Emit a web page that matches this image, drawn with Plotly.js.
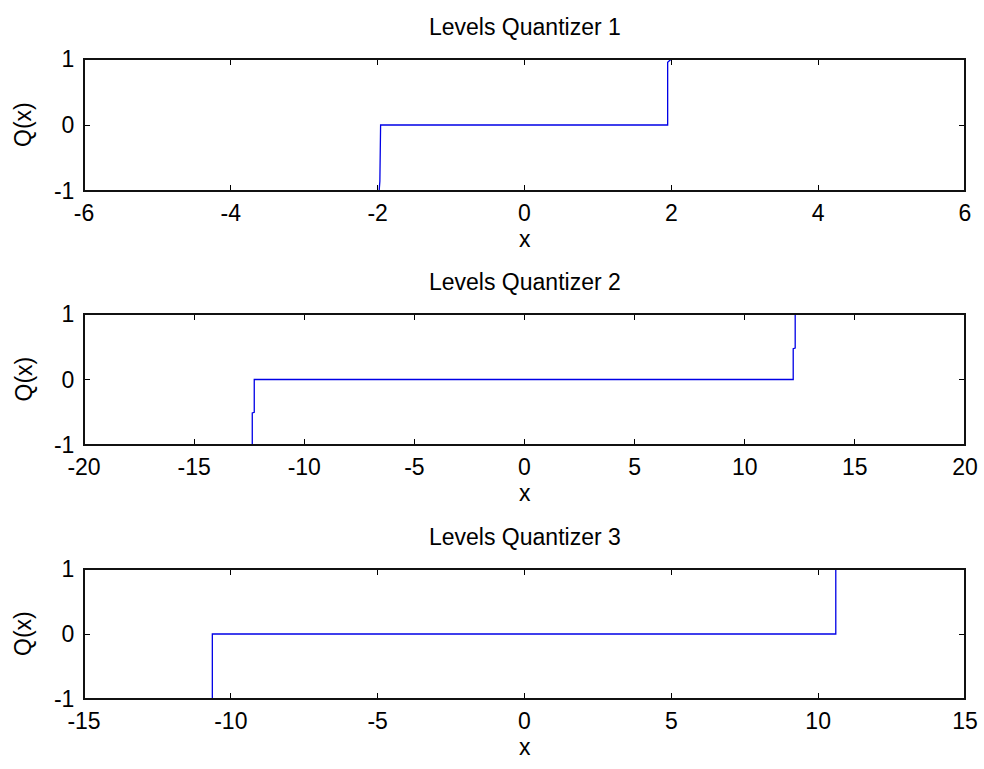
<!DOCTYPE html>
<html>
<head>
<meta charset="utf-8">
<script src="https://cdn.plot.ly/plotly-3.0.1.min.js"></script>
<style>html,body{margin:0;padding:0;background:#fff;}#chart{width:984px;height:769px;}</style>
</head>
<body>
<div id="chart"></div>
<script>
// Quantizer 1 step curve
const x1 = [-6, -1.98, -1.97, -1.96, 1.95, 1.95, 2.0, 6];
const y1 = [-1, -1, -0.85, 0, 0, 0.95, 1, 1];
// Quantizer 2 step curve
const x2 = [-20, -12.36, -12.36, -12.27, -12.27, 12.2, 12.2, 12.29, 12.29, 20];
const y2 = [-1, -1, -0.51, -0.5, 0, 0, 0.47, 0.48, 1, 1];
// Quantizer 3 step curve
const x3 = [-15, -10.63, -10.63, 10.6, 10.6, 15];
const y3 = [-1, -1, 0, 0, 1, 1];

const titles = ["Levels Quantizer 1", "Levels Quantizer 2", "Levels Quantizer 3"];
const xRanges = [[-6, 6], [-20, 20], [-15, 15]];
const xTicks = [[-6, -4, -2, 0, 2, 4, 6], [-20, -15, -10, -5, 0, 5, 10, 15, 20], [-15, -10, -5, 0, 5, 10, 15]];
const yTicks = [-1, 0, 1];
const xLabel = "x";
const yLabel = "Q(x)";

const W = 984, H = 769;
const xd = [84 / W, 965 / W];
const boxes = [[59, 191], [314, 445], [569, 699]];
const font = {family: "Liberation Sans, Arial, sans-serif", size: 23, color: "#000"};
const lineColor = "#0000e6";

const data = [[x1, y1], [x2, y2], [x3, y3]].map((d, i) => ({
  x: d[0], y: d[1], type: "scatter", mode: "lines",
  line: {color: lineColor, width: 1.3},
  xaxis: i === 0 ? "x" : "x" + (i + 1),
  yaxis: i === 0 ? "y" : "y" + (i + 1),
  hoverinfo: "skip", showlegend: false
}));

const layout = {
  width: W, height: H,
  margin: {l: 0, r: 0, t: 0, b: 0},
  paper_bgcolor: "#fff", plot_bgcolor: "#fff",
  font: font, showlegend: false,
  annotations: [], shapes: []
};

const txt = v => String(v).replace("\u2212", "-");

boxes.forEach((b, i) => {
  const s = i === 0 ? "" : String(i + 1);
  const yd = [1 - b[1] / H, 1 - b[0] / H];
  layout["xaxis" + s] = {
    domain: xd, range: xRanges[i], anchor: "y" + s,
    tickmode: "array", tickvals: xTicks[i], ticktext: xTicks[i].map(txt),
    ticks: "inside", ticklen: 6, tickwidth: 1, tickcolor: "#000",
    showline: true, linecolor: "#000", linewidth: 1, mirror: "ticks",
    showgrid: false, zeroline: false,
    tickfont: font, ticklabelstandoff: 1
  };
  layout["yaxis" + s] = {
    domain: yd, range: [-1, 1], anchor: "x" + s,
    tickmode: "array", tickvals: yTicks, ticktext: yTicks.map(txt),
    ticks: "inside", ticklen: 6, tickwidth: 1, tickcolor: "#000",
    showline: true, linecolor: "#000", linewidth: 1, mirror: "ticks",
    showgrid: false, zeroline: false,
    tickfont: font, ticklabelstandoff: 4
  };
  // frame drawn above the curve, like the reference box
  layout.shapes.push({
    type: "rect", xref: "x" + s + " domain", yref: "y" + s + " domain",
    x0: 0, x1: 1, y0: 0, y1: 1, line: {color: "#111", width: 2}, layer: "above"
  });
  layout.annotations.push({
    text: titles[i], xref: "paper", yref: "paper",
    x: (xd[0] + xd[1]) / 2, y: 1 - (b[0] - 32) / H, yanchor: "middle", xanchor: "center",
    showarrow: false, font: font
  });
  layout.annotations.push({
    text: xLabel, xref: "paper", yref: "paper",
    x: (xd[0] + xd[1]) / 2, y: 1 - (b[1] + 48) / H, yanchor: "middle", xanchor: "center",
    showarrow: false, font: font
  });
  layout.annotations.push({
    text: yLabel, xref: "paper", yref: "paper", textangle: -90,
    x: 23 / W, y: 1 - ((b[0] + b[1]) / 2) / H, yanchor: "middle", xanchor: "center",
    showarrow: false, font: font
  });
});

Plotly.newPlot("chart", data, layout, {displayModeBar: false, staticPlot: true});
</script>
</body>
</html>
